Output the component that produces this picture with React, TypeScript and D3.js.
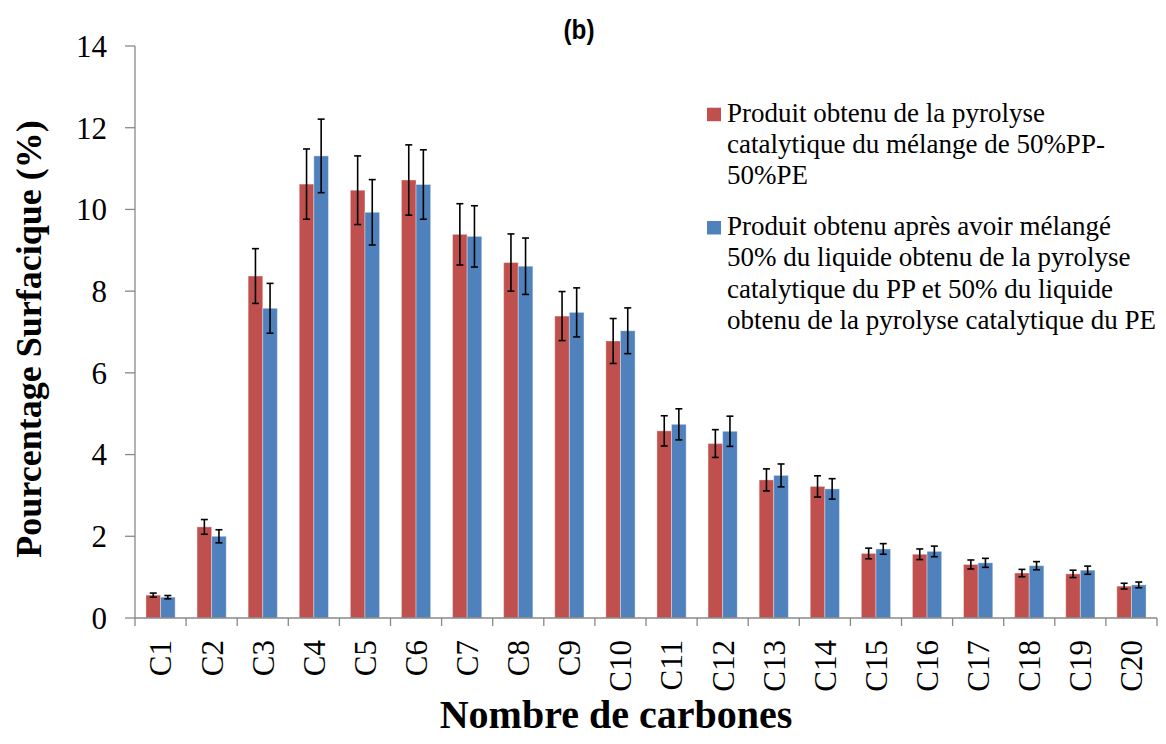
import React from 'react';
import * as d3 from 'd3';

// carbon numbers on the x axis
const categories = ['C1', 'C2', 'C3', 'C4', 'C5', 'C6', 'C7', 'C8', 'C9', 'C10',
  'C11', 'C12', 'C13', 'C14', 'C15', 'C16', 'C17', 'C18', 'C19', 'C20'];

// catalytic pyrolysis of the 50%PP-50%PE mix
const mixValues = [0.56, 2.23, 8.37, 10.62, 10.47, 10.72, 9.39, 8.70, 7.39, 6.78,
  4.58, 4.27, 3.38, 3.22, 1.58, 1.56, 1.31, 1.10, 1.08, 0.78];
const mixErrors = [0.05, 0.18, 0.67, 0.86, 0.84, 0.86, 0.75, 0.70, 0.60, 0.55,
  0.37, 0.34, 0.27, 0.26, 0.13, 0.13, 0.11, 0.09, 0.09, 0.07];

// blend of the PP liquid and the PE liquid (50/50)
const blendValues = [0.51, 2.00, 7.58, 11.31, 9.93, 10.61, 9.34, 8.61, 7.48, 7.03,
  4.74, 4.57, 3.49, 3.16, 1.69, 1.63, 1.35, 1.28, 1.17, 0.81];
const blendErrors = [0.04, 0.16, 0.61, 0.90, 0.80, 0.85, 0.75, 0.69, 0.60, 0.56,
  0.38, 0.37, 0.28, 0.25, 0.13, 0.13, 0.11, 0.10, 0.10, 0.07];

const yTicks = [0, 2, 4, 6, 8, 10, 12, 14];

const mixLegend = ['Produit obtenu de la pyrolyse', 'catalytique du mélange de 50%PP-', '50%PE'];
const blendLegend = ['Produit obtenu après avoir mélangé', '50% du liquide obtenu de la pyrolyse',
  'catalytique du PP et 50% du liquide', 'obtenu de la pyrolyse catalytique du PE'];

const series = [
  { key: 'mix', values: mixValues, errors: mixErrors, color: '#C0504D', legend: mixLegend },
  { key: 'blend', values: blendValues, errors: blendErrors, color: '#4F81BD', legend: blendLegend },
];

const serif = '"Liberation Serif", "Times New Roman", serif';
const axisColor = '#888888';

const App: React.FC = () => {
  const width = 1166;
  const height = 744;
  const plot = { left: 135, right: 1157, top: 46, bottom: 618 };

  const x = d3.scaleBand<string>()
    .domain(categories)
    .range([plot.left, plot.right]);

  // gap width 150% of a bar, like the spreadsheet default
  const xSeries = d3.scaleBand<string>()
    .domain(series.map(s => s.key))
    .range([0, x.bandwidth()])
    .paddingInner(0)
    .paddingOuter(0.75);

  const y = d3.scaleLinear()
    .domain([0, 14])
    .range([plot.bottom, plot.top]);

  const capHalf = 3.5;

  return (
    <svg width={width} height={height}
      style={{ position: 'absolute', left: 0, top: 0, display: 'block', background: '#fff' }}>
      {/* title */}
      <text x={579} y={39} textAnchor="middle" fontFamily='"Liberation Sans", Arial, sans-serif'
        fontWeight="bold" fontSize={27} fill="#000" transform="translate(579,0) scale(0.9,1) translate(-579,0)">(b)</text>

      {/* bars */}
      {series.map(s => (
        <g key={s.key}>
          {categories.map((c, i) => (
            <rect key={c}
              x={(x(c) ?? 0) + (xSeries(s.key) ?? 0)}
              y={y(s.values[i])}
              width={xSeries.bandwidth()}
              height={y(0) - y(s.values[i])}
              fill={s.color}
              stroke="rgba(255,255,255,0.35)"
              strokeWidth={1} />
          ))}
        </g>
      ))}

      {/* error bars */}
      {series.map(s => (
        <g key={s.key + '-err'} stroke="#000" strokeWidth={1.6}>
          {categories.map((c, i) => {
            const cx = (x(c) ?? 0) + (xSeries(s.key) ?? 0) + xSeries.bandwidth() / 2;
            const y1 = y(s.values[i] + s.errors[i]);
            const y2 = y(s.values[i] - s.errors[i]);
            return (
              <g key={c}>
                <line x1={cx} x2={cx} y1={y1} y2={y2} />
                <line x1={cx - capHalf} x2={cx + capHalf} y1={y1} y2={y1} />
                <line x1={cx - capHalf} x2={cx + capHalf} y1={y2} y2={y2} />
              </g>
            );
          })}
        </g>
      ))}

      {/* y axis */}
      <line x1={plot.left} x2={plot.left} y1={plot.top} y2={plot.bottom} stroke={axisColor} strokeWidth={1.3} />
      {yTicks.map(t => (
        <g key={t}>
          <line x1={plot.left - 10} x2={plot.left} y1={y(t)} y2={y(t)} stroke={axisColor} strokeWidth={1.3} />
          <text x={107} y={y(t)} dy="0.35em" textAnchor="end" fontFamily={serif} fontSize={31} fill="#000">{t}</text>
        </g>
      ))}

      {/* x axis */}
      <line x1={plot.left} x2={plot.right} y1={plot.bottom} y2={plot.bottom} stroke={axisColor} strokeWidth={1.3} />
      {[...categories.map(c => x(c) ?? 0), plot.right].map((px, i) => (
        <line key={i} x1={px} x2={px} y1={plot.bottom} y2={plot.bottom + 8} stroke={axisColor} strokeWidth={1.3} />
      ))}
      {categories.map(c => {
        const cx = (x(c) ?? 0) + x.bandwidth() / 2;
        return (
          <text key={c} transform={`translate(${cx},640) rotate(-90)`} dy="0.35em" textAnchor="end"
            fontFamily={serif} fontSize={31} fill="#000">{c}</text>
        );
      })}

      {/* axis titles */}
      <text x={616} y={728} textAnchor="middle" fontFamily={serif} fontWeight="bold" fontSize={40} fill="#000">
        Nombre de carbones
      </text>
      <text transform={`translate(41,339) rotate(-90)`} textAnchor="middle" fontFamily={serif}
        fontWeight="bold" fontSize={36} fill="#000">
        Pourcentage Surfacique (%)
      </text>

      {/* legend */}
      {series.map((s, si) => {
        const top = si === 0 ? 121.7 : 235;
        return (
          <g key={s.key + '-legend'}>
            <rect x={707} y={top - 14} width={14} height={13.5} fill={s.color} />
            {s.legend.map((line, li) => (
              <text key={li} x={727} y={top + li * 31.3} fontFamily={serif} fontSize={27} fill="#000">{line}</text>
            ))}
          </g>
        );
      })}
    </svg>
  );
};

export default App;
